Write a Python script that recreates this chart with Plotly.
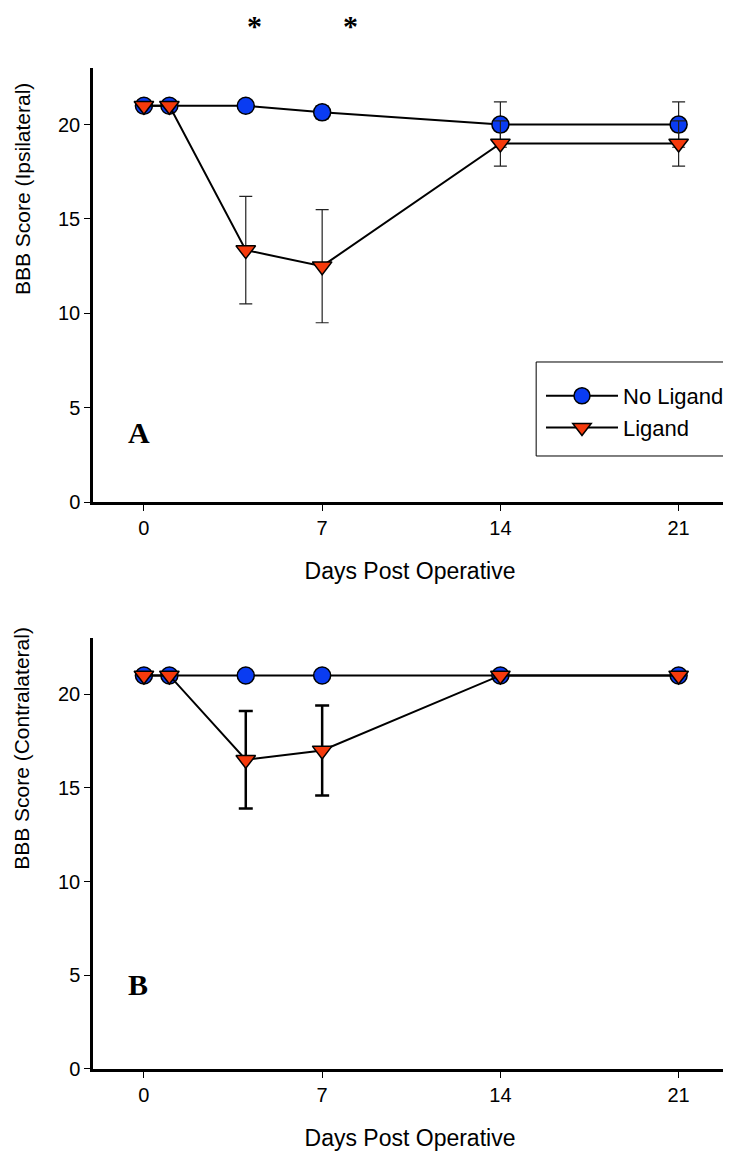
import plotly.graph_objects as go

# ---- data ----
days = [0, 1, 4, 7, 14, 21]

ipsi_no_ligand = [21, 21, 21, 20.65, 20, 20]
ipsi_no_ligand_err = [0, 0, 0, 0.35, 1.2, 1.2]
ipsi_ligand = [21, 21, 13.35, 12.5, 19, 19]
ipsi_ligand_err = [0, 0, 2.85, 3.0, 1.2, 1.2]

contra_no_ligand = [21, 21, 21, 21, 21, 21]
contra_ligand = [21, 21, 16.5, 17.0, 21, 21]
contra_ligand_err = [0, 0, 2.6, 2.4, 0, 0]

x_ticks = [0, 7, 14, 21]
y_ticks = [0, 5, 10, 15, 20]
series_names = ["No Ligand", "Ligand"]
panel_labels = ["A", "B"]
y_titles = ["BBB Score (Ipsilateral)", "BBB Score (Contralateral)"]
x_title = "Days Post Operative"
signif_days = [4.35, 8.1]   # positions of the significance asterisks

BLUE = "#0a3cf2"
RED = "#f53a0c"
FONT = "Liberation Sans"

fig = go.Figure()

marker_circle = dict(symbol="circle", size=17, color=BLUE, line=dict(color="black", width=1.5))
marker_tri = dict(symbol="triangle-down", size=17, color=RED, line=dict(color="black", width=1.5))

# top panel (ipsilateral)
fig.add_trace(go.Scatter(
    x=days, y=ipsi_no_ligand, name=series_names[0], mode="lines+markers",
    line=dict(color="black", width=2), marker=marker_circle,
    error_y=dict(type="data", array=ipsi_no_ligand_err, visible=True, color="#222222", thickness=1.2, width=6.5),
    xaxis="x", yaxis="y", showlegend=True))
fig.add_trace(go.Scatter(
    x=days, y=ipsi_ligand, name=series_names[1], mode="lines+markers",
    line=dict(color="black", width=2), marker=marker_tri,
    error_y=dict(type="data", array=ipsi_ligand_err, visible=True, color="#222222", thickness=1.2, width=6.5),
    xaxis="x", yaxis="y", showlegend=True))

# bottom panel (contralateral)
fig.add_trace(go.Scatter(
    x=days, y=contra_no_ligand, name=series_names[0], mode="lines+markers",
    line=dict(color="black", width=2), marker=marker_circle,
    xaxis="x2", yaxis="y2", showlegend=False))
fig.add_trace(go.Scatter(
    x=days, y=contra_ligand, name=series_names[1], mode="lines+markers",
    line=dict(color="black", width=2), marker=marker_tri,
    error_y=dict(type="data", array=contra_ligand_err, visible=True, color="black", thickness=2.5, width=7),
    xaxis="x2", yaxis="y2", showlegend=False))

xcommon = dict(range=[-2, 22.9], tickvals=x_ticks, ticks="outside", ticklen=6, tickwidth=1,
               tickcolor="black", showline=True, linecolor="black", linewidth=2.5,
               showgrid=False, zeroline=False, tickfont=dict(family=FONT, size=20, color="black"),
               title=dict(text=x_title, font=dict(family=FONT, size=23, color="black"), standoff=26))
ycommon = dict(range=[0, 23], tickvals=y_ticks, ticks="outside", ticklen=6, tickwidth=1,
               tickcolor="black", showline=True, linecolor="black", linewidth=2.5,
               showgrid=False, zeroline=False, tickfont=dict(family=FONT, size=20, color="black"))

annotations = [
    dict(text="<b>%s</b>" % panel_labels[0], x=-0.2, y=3.7, xref="x", yref="y", showarrow=False,
         font=dict(family="Liberation Serif", size=30, color="black")),
    dict(text="<b>%s</b>" % panel_labels[1], x=-0.25, y=4.5, xref="x2", yref="y2", showarrow=False,
         font=dict(family="Liberation Serif", size=30, color="black")),
    dict(text=y_titles[0], textangle=-90, x=-0.112, y=0.721, xref="paper", yref="y domain",
         xanchor="center", yanchor="middle",
         showarrow=False, font=dict(family=FONT, size=21, color="black")),
    dict(text=y_titles[1], textangle=-90, x=-0.112, y=0.745, xref="paper", yref="y2 domain",
         xanchor="center", yanchor="middle",
         showarrow=False, font=dict(family=FONT, size=21, color="black")),
]
for d in signif_days:
    annotations.append(dict(text="<b>*</b>", x=d, y=1.097, xref="x", yref="y domain", showarrow=False,
                            xanchor="center", yanchor="middle",
                            font=dict(family="Liberation Serif", size=30, color="black")))

fig.update_layout(
    width=723, height=1145,
    margin=dict(l=85, r=3, t=60, b=84),
    paper_bgcolor="white", plot_bgcolor="white",
    xaxis=dict(**xcommon, domain=[0, 1], anchor="y"),
    yaxis=dict(**ycommon, domain=[0.5664, 1], anchor="x"),
    xaxis2=dict(**xcommon, domain=[0, 1], anchor="y2"),
    yaxis2=dict(**ycommon, domain=[0, 0.4306], anchor="x2"),
    legend=dict(x=0.7055, y=0.6933, xanchor="left", yanchor="top",
                borderwidth=0, bgcolor="rgba(0,0,0,0)",
                font=dict(family=FONT, size=22, color="black"),
                itemwidth=72, itemsizing="trace", tracegroupgap=4),
    showlegend=True,
    shapes=[dict(type="rect", xref="paper", yref="paper", x0=0.699, x1=1.2, y0=0.6124, y1=0.7063,
                 line=dict(color="black", width=1), fillcolor="white", layer="below")],
    annotations=annotations,
)

fig.write_html("out.html")
